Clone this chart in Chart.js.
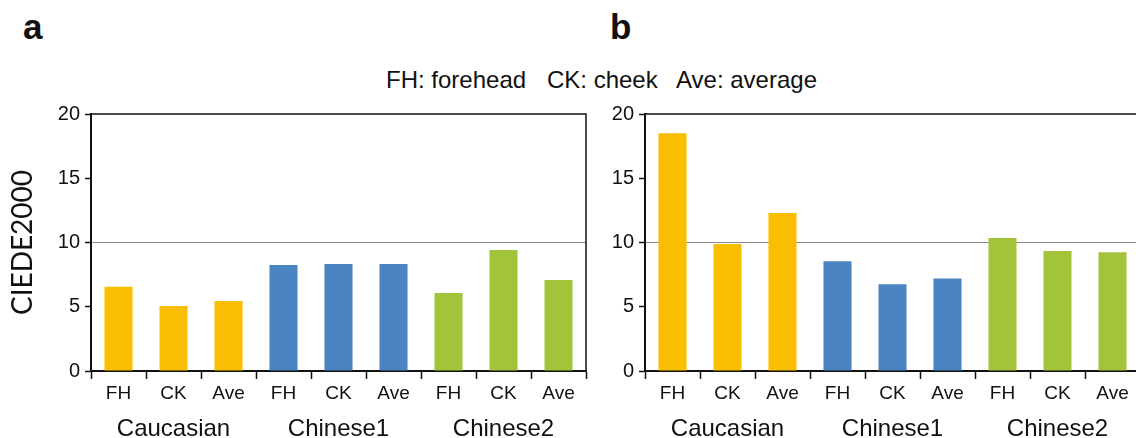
<!DOCTYPE html>
<html>
<head>
<meta charset="utf-8">
<script src="https://cdn.jsdelivr.net/npm/chart.js@4.4.1/dist/chart.umd.min.js"></script>
<style>
  html,body{margin:0;padding:0}
  body{width:1136px;height:438px;overflow:hidden;position:relative;background:#fff;
       font-family:"Liberation Sans",Arial,sans-serif;color:#111}
  #wrap{position:absolute;left:0;top:0;width:1136px;height:438px;overflow:hidden}
  canvas{position:absolute;top:0}
  #chartA{left:0}
  #chartB{left:554px}
  .tag{position:absolute;top:9px;font-weight:bold;font-size:35px;line-height:35px}
  .note{position:absolute;top:68px;font-size:24px;line-height:23px;white-space:pre}
</style>
</head>
<body>
<div id="wrap">
<div class="tag" style="left:23px">a</div>
<div class="tag" style="left:610px">b</div>
<div class="note" style="left:386px">FH: forehead</div>
<div class="note" style="left:547px">CK: cheek</div>
<div class="note" style="left:676px">Ave: average</div>
<canvas id="chartA" width="600" height="438"></canvas>
<canvas id="chartB" width="640" height="438"></canvas>
</div>
<script>
// bar labels under each bar, then the population groups under them
const parts = ['FH', 'CK', 'Ave', 'FH', 'CK', 'Ave', 'FH', 'CK', 'Ave'];
const groups = ['Caucasian', 'Chinese1', 'Chinese2'];
const groupOf = [0, 0, 0, 1, 1, 1, 2, 2, 2];

// colour difference values (CIEDE2000), panel a and panel b
const valuesA = [6.55, 5.06, 5.45, 8.25, 8.33, 8.33, 6.07, 9.42, 7.08];
const valuesB = [18.5, 9.88, 12.3, 8.55, 6.75, 7.2, 10.35, 9.33, 9.25];

const yMax = 20;
const yStep = 5;
const refLine = 10;

const groupColors = ['#F9BE00', '#4A84C2', '#A3C43A'];
const ink = '#111';
const sans = '"Liberation Sans", Arial, sans-serif';

// top edge of the plot box, plus the right edge when it is on screen
const framePlugin = {
  id: 'frame',
  afterDatasetsDraw(chart, args, opts) {
    const {ctx, chartArea: a} = chart;
    ctx.save();
    ctx.strokeStyle = ink;
    ctx.lineWidth = 1.5;
    ctx.beginPath();
    ctx.moveTo(a.left, a.top);
    ctx.lineTo(a.right, a.top);
    if (opts.right) ctx.lineTo(a.right, a.bottom);
    ctx.stroke();
    ctx.restore();
  }
};

function makeChart(id, values, showTitle, rightEdge, padRight) {
  const ctx = document.getElementById(id).getContext('2d');
  return new Chart(ctx, {
    type: 'bar',
    data: {
      labels: parts,
      datasets: [{
        data: values,
        backgroundColor: groupOf.map(g => groupColors[g]),
        barPercentage: 0.51,
        categoryPercentage: 1
      }]
    },
    options: {
      responsive: false,
      animation: false,
      layout: {padding: {top: 114, right: padRight, left: 0, bottom: 0}},
      plugins: {legend: {display: false}, tooltip: {enabled: false}, frame: {right: rightEdge}},
      scales: {
        x: {
          weight: 0,
          grid: {offset: true, drawOnChartArea: false, tickLength: 8, tickColor: ink, tickWidth: 1.5},
          border: {color: ink, width: 2},
          ticks: {color: ink, font: {family: sans, size: 19}, padding: 3},
          afterFit: s => { s.height = 34; }
        },
        x2: {
          type: 'category',
          labels: groups,
          position: 'bottom',
          offset: true,
          weight: 1,
          grid: {display: false},
          border: {display: false},
          ticks: {color: ink, font: {family: sans, size: 24}, padding: 2},
          afterFit: s => { s.height = 33; }
        },
        y: {
          min: 0,
          max: yMax,
          ticks: {stepSize: yStep, color: ink, font: {family: sans, size: 20}, padding: 5},
          grid: {
            color: c => c.tick.value === refLine ? '#8a8a8a' : 'rgba(0,0,0,0)',
            lineWidth: 1,
            tickLength: 6,
            tickColor: ink,
            tickWidth: 1.5
          },
          border: {color: ink, width: 2},
          title: {
            display: showTitle,
            text: 'CIEDE2000',
            color: ink,
            font: {family: 'Lato, sans-serif', size: 28},
            padding: {top: 6, bottom: 0}
          },
          afterFit: s => { s.width = 91; }
        }
      }
    },
    plugins: [framePlugin]
  });
}

makeChart('chartA', valuesA, true, true, 14);
makeChart('chartB', valuesB, false, false, 54);
</script>
</body>
</html>
